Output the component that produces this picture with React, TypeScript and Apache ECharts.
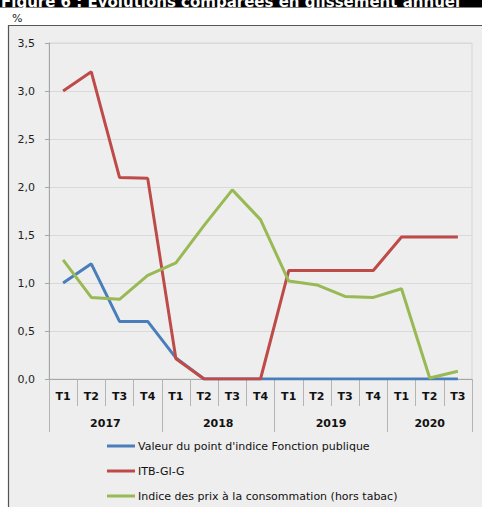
import React, { useEffect, useRef } from "react";
import * as echarts from "echarts";

const quarters = ["T1", "T2", "T3", "T4", "T1", "T2", "T3", "T4", "T1", "T2", "T3", "T4", "T1", "T2", "T3"];
const years = ["2017", "2018", "2019", "2020"];
const yearCounts = [4, 4, 4, 3];

const seriesNames = [
  "Valeur du point d'indice Fonction publique",
  "ITB-GI-G",
  "Indice des prix à la consommation (hors tabac)",
];
const pointIndice = [1.0, 1.2, 0.6, 0.6, 0.22, 0, 0, 0, 0, 0, 0, 0, 0, 0, 0];
const itbGiG = [3.0, 3.2, 2.1, 2.09, 0.21, 0, 0, 0, 1.13, 1.13, 1.13, 1.13, 1.48, 1.48, 1.48];
const ipcHorsTabac = [1.24, 0.85, 0.83, 1.08, 1.21, 1.6, 1.97, 1.66, 1.02, 0.98, 0.86, 0.85, 0.94, 0.01, 0.08];
const colors = ["#4a7ebb", "#be4b48", "#98b954"];

const yMin = 0;
const yMax = 3.5;
const yStep = 0.5;

const titleText = "Figure 6 : Évolutions comparées en glissement annuel";
const unitText = "%";

const FONT = "DejaVu Sans";

export default function App() {
  const ref = useRef<HTMLDivElement>(null);
  useEffect(() => {
    if (!ref.current) return;
    const chart = echarts.init(ref.current, undefined, { renderer: "svg" });

    const boundaries: number[] = [0];
    const centers: number[] = [];
    let acc = 0;
    yearCounts.forEach((c) => {
      centers.push(acc + c / 2);
      acc += c;
      boundaries.push(acc);
    });

    const axisGray = "#a6a6a6";

    chart.setOption({
      animation: false,
      backgroundColor: "#ffffff",
      textStyle: { fontFamily: FONT },
      graphic: [
        {
          type: "rect",
          z: -10,
          shape: { x: 8.5, y: 25.5, width: 490, height: 500 },
          style: { fill: "#eeeeee", stroke: "#555555", lineWidth: 1.2 },
        },
        {
          type: "text",
          z: 99,
          x: 1,
          y: 9,
          style: {
            text: titleText,
            fill: "#ffffff",
            font: `bold 15px "${FONT}"`,
            verticalAlign: "bottom",
          },
        },
        {
          type: "rect",
          z: 98,
          shape: { x: 0, y: 0, width: 482, height: 7.5 },
          style: { fill: "#000000" },
        },
        {
          type: "text",
          x: 12,
          y: 13,
          style: { text: unitText, fill: "#222", font: `11px "${FONT}"` },
        },
      ],
      grid: {
        left: 49,
        right: 10,
        top: 43,
        bottom: 128,
        show: true,
        backgroundColor: "#eeeeee",
        borderColor: "#d6d6d6",
        borderWidth: 1,
        containLabel: false,
      },
      legend: {
        orient: "vertical",
        left: 107,
        top: 439,
        padding: 0,
        icon: "rect",
        itemWidth: 28,
        itemHeight: 3,
        itemGap: 11,
        data: seriesNames,
        textStyle: { fontSize: 11, fontFamily: FONT, color: "#111", lineHeight: 14, padding: [0, 0, 0, -2] },
      },
      xAxis: [
        {
          type: "category",
          data: quarters,
          boundaryGap: true,
          axisLine: { show: true, lineStyle: { color: axisGray, width: 1 } },
          axisTick: { show: true, length: 27, lineStyle: { color: "#b4b4b4" } },
          axisLabel: { fontWeight: "bold", fontSize: 11, color: "#111", margin: 12, fontFamily: FONT },
          splitLine: { show: false },
        },
        {
          type: "value",
          min: 0,
          max: quarters.length,
          position: "bottom",
          offset: 27,
          axisLine: { show: false },
          axisTick: { show: true, length: 26, customValues: boundaries, lineStyle: { color: "#b4b4b4" } },
          axisLabel: {
            show: true,
            customValues: centers,
            fontWeight: "bold",
            fontSize: 11,
            color: "#111",
            margin: 12,
            fontFamily: FONT,
            formatter: (v: number) => {
              const i = centers.findIndex((c) => Math.abs(c - v) < 1e-6);
              return i >= 0 ? years[i] : "";
            },
          },
          splitLine: { show: false },
        },
      ],
      yAxis: {
        type: "value",
        min: yMin,
        max: yMax,
        interval: yStep,
        axisLine: { show: true, lineStyle: { color: axisGray, width: 1 } },
        axisTick: { show: true, length: 4, lineStyle: { color: axisGray } },
        axisLabel: {
          fontSize: 11,
          color: "#222",
          margin: 14,
          fontFamily: FONT,
          formatter: (v: number) => v.toFixed(1).replace(".", ","),
        },
        splitLine: { show: true, lineStyle: { color: "#d9d9d9", width: 1 } },
      },
      series: [pointIndice, itbGiG, ipcHorsTabac].map((d, i) => ({
        name: seriesNames[i],
        type: "line",
        xAxisIndex: 0,
        data: d,
        symbol: "none",
        color: colors[i],
        lineStyle: { width: 3, color: colors[i] },
      })),
    });
    return () => chart.dispose();
  }, []);
  return <div ref={ref} style={{ position: "fixed", left: 0, top: 0, width: 482, height: 507 }} />;
}
